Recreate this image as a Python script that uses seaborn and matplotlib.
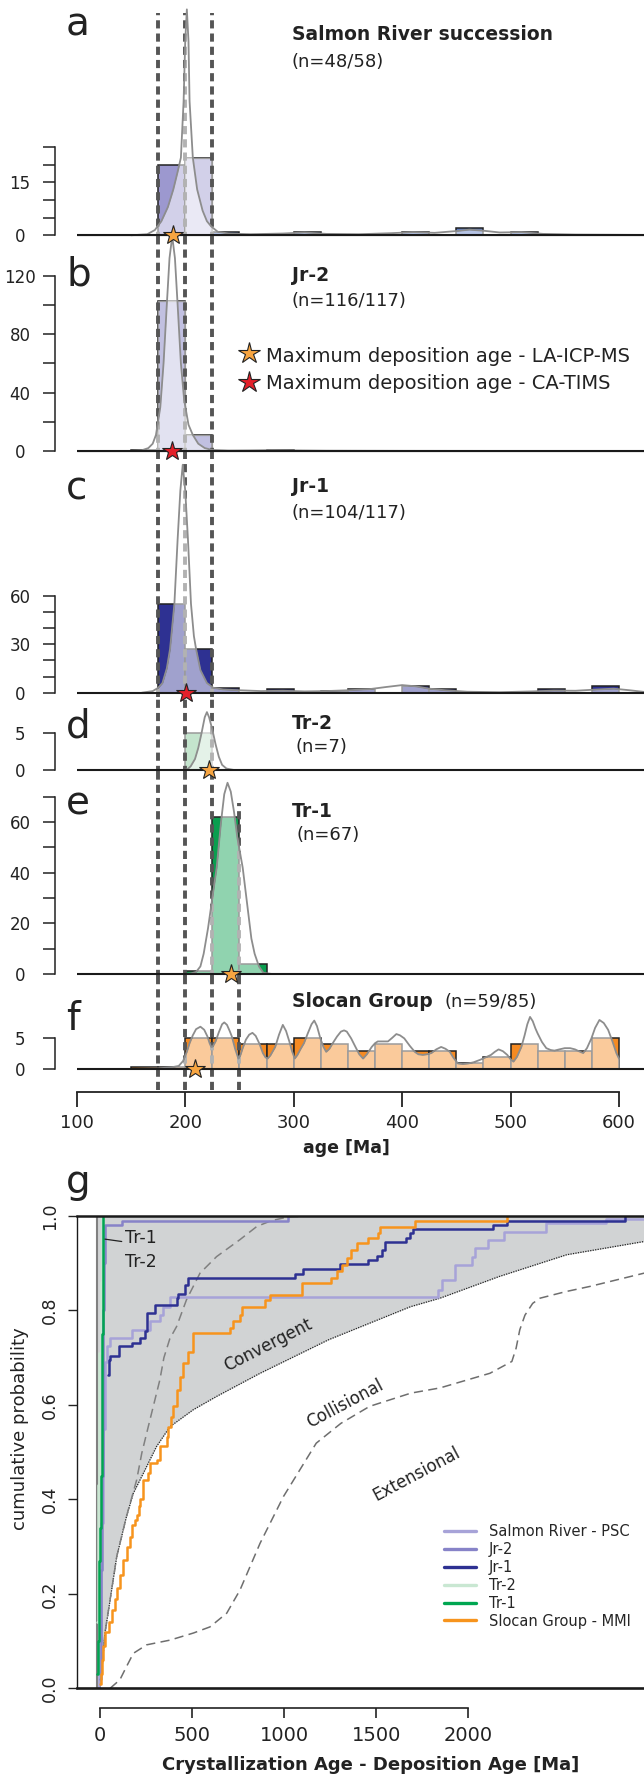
import matplotlib
matplotlib.use("Agg")
import matplotlib.pyplot as plt
from matplotlib.lines import Line2D
import seaborn as sns

sns.set_style("ticks")
plt.rcParams["font.family"] = ["DejaVu Sans"]

W, H = 644, 1779

# ---------------- histogram data: left edges of 25 Ma bins and counts ----------------
BIN_EDGES = list(range(100, 626, 25))

A_BINS = [175, 200]
A_COUNTS = [20, 22]
A_SMALL_BINS = [225, 300, 400, 450, 500]
A_SMALL_COUNTS = [1, 1, 1, 2, 1]
A_LIGHT_BINS = [200]
A_LIGHT_COUNTS = [22]
A_KDE_X = [150, 165, 172, 178, 184, 189, 193, 196, 198.5, 200, 201.5, 203, 204, 207, 211, 216, 220, 224,
           230, 240, 260, 290, 310, 330, 360, 390, 410, 430, 450, 462, 475, 490, 510, 530, 560, 623]
A_KDE_Y = [0, 0.3, 1.5, 4, 8, 13, 18, 22, 38, 55, 64, 55, 38, 22, 13, 7, 4, 2.5,
           1, 0.5, 0.3, 0.5, 0.8, 0.4, 0.3, 0.6, 0.9, 0.7, 1.2, 1.6, 1.3, 0.8, 0.9, 0.4, 0.2, 0.1]

B_BINS = [150, 175, 200, 275]
B_COUNTS = [1, 103, 11, 1]
B_LIGHT_BINS = [175, 200]
B_LIGHT_COUNTS = [103, 11]
B_KDE_X = [150, 160, 166, 170, 173, 177, 180, 183, 185.5, 188, 190.5, 193, 196, 199, 203, 207, 212, 218,
           225, 240, 260, 280, 300, 330, 400, 623]
B_KDE_Y = [0, 0.5, 2, 5, 11, 30, 60, 100, 132, 147, 132, 100, 60, 35, 18, 11, 5, 2,
           0.7, 0.3, 0.4, 0.6, 0.4, 0.2, 0.1, 0]

C_BINS = [175, 200, 225, 275, 325, 350, 400, 425, 525, 575]
C_COUNTS = [55, 27, 3, 2, 1, 2, 4, 2, 2, 4]
C_KDE_X = [160, 170, 175, 179, 183, 186, 190, 193, 195.5, 197.7, 200, 202.5, 205.3, 208, 210, 214, 220, 226,
           235, 250, 270, 290, 310, 330, 350, 370, 385, 400, 412, 425, 440, 460, 490, 520, 540, 560,
           580, 595, 610, 623]
C_KDE_Y = [0, 1, 3, 6, 15, 27, 55, 95, 125, 141, 125, 95, 55, 35, 27, 14, 6, 3,
           2, 1.5, 1, 1.2, 0.8, 1, 1.5, 2.2, 3.5, 4.7, 4, 2.5, 1.5, 0.6, 0.3, 0.8, 1.3, 1.2,
           2, 2.5, 1.5, 0.5]

D_BINS = [200]
D_COUNTS = [5]
D_KDE_X = [198, 202, 205, 209, 212, 215, 218, 220, 222, 225, 228, 231, 234, 238, 245]
D_KDE_Y = [0, 0.1, 0.5, 1.5, 3, 5, 7.2, 7.9, 7.2, 5.5, 3.5, 1.8, 0.7, 0.2, 0]

E_BINS = [200, 225, 250]
E_COUNTS = [1, 62, 4]
E_KDE_X = [200, 205, 210, 214, 217, 221, 225, 229, 233, 236, 239, 242, 245, 248, 253, 257, 261, 264,
           268, 272, 280]
E_KDE_Y = [0, 0.2, 0.8, 3, 8, 18, 30, 42, 60, 71, 75.5, 72, 64, 54, 42, 28, 14, 8, 3, 0.5, 0]

F_BINS = [150, 175, 200, 225, 250, 275, 300, 325, 350, 375, 400, 425, 450, 475, 500, 525, 550, 575]
F_COUNTS = [0.3, 0.3, 5, 5, 4, 4, 5, 4, 3, 4, 3, 3, 1, 2, 4, 3, 3, 5]
F_KDE_X = [150, 175, 188, 194, 198, 201.5, 204, 207, 210, 214, 217.5, 220.5, 222.5, 224, 225.5, 228, 231,
           234, 236, 238.5, 241, 243, 246, 249, 251, 253, 256, 259, 262, 265, 268.5, 271.6, 274, 276,
           278.5, 283, 286.5, 290, 293, 296, 298.5, 301, 303.5, 306.5, 309.5, 313, 316.5, 319, 321.5,
           324.6, 327.5, 330, 333, 336, 340, 343.6, 346.5, 349, 353, 357, 360.5, 364, 367.5, 372, 375,
           377.6, 382, 387, 391, 394.7, 398, 402, 407, 411.7, 415, 419, 423, 427, 431.5, 436, 440, 444,
           447.5, 451.5, 456, 461, 466, 472, 477, 482, 485.5, 489, 493, 497, 500, 502.7, 506, 510, 513,
           515.5, 518, 520.5, 523, 525, 529, 533, 537, 540.5, 545, 550, 555, 559.5, 563, 567, 570.5,
           574.6, 578, 582, 586, 590, 594, 597.6, 600]
F_KDE_Y = [0, 0.1, 0.3, 0.5, 1.3, 2.8, 4.2, 5.5, 6.5, 6.9, 6.4, 5.3, 4.2, 3.6, 3.7, 4.5, 6.0,
           7.3, 7.6, 7.2, 6.2, 5.3, 3.3, 1.7, 2.3, 3.4, 4.8, 5.6, 5.9, 5.4, 4.1, 2.6, 1.9, 1.7,
           2.2, 3.6, 5.6, 7.2, 6.2, 4.5, 2.9, 1.7, 2.3, 3.3, 4.2, 5.8, 7.3, 7.9, 7.0,
           5.0, 3.6, 2.8, 3.3, 4.2, 5.3, 6.1, 6.3, 6.1, 5.0, 3.6, 2.4, 1.7, 2.4, 3.6, 4.2,
           4.5, 4.5, 4.5, 5.1, 5.7, 5.5, 5.0, 3.8, 2.8, 2.4, 2.3, 2.4, 2.6, 3.2, 3.6, 3.3, 2.8,
           1.8, 0.9, 0.8, 0.9, 1.1, 1.5, 1.9, 2.3, 2.8, 3.2, 2.9, 2.3, 1.6, 1.2, 2.0, 3.6, 5.5,
           7.3, 8.5, 7.8, 6.6, 5.8, 4.4, 3.4, 3.1, 3.0, 3.2, 3.4, 3.4, 3.2, 2.9, 2.6, 3.4,
           5.0, 6.7, 8.0, 7.5, 6.4, 4.5, 2.6, 1.7]

# maximum deposition ages (stars)
STAR_AGES = [188.3, 187.5, 200.4, 221.6, 242.4, 209]
STAR_KIND = ["LA", "TIMS", "TIMS", "LA", "LA", "LA"]
DASH_AGES = [175, 200, 225, 250]

TITLES = ["Salmon River succession", "Jr-2", "Jr-1", "Tr-2", "Tr-1", "Slocan Group"]
N_LABELS = ["(n=48/58)", "(n=116/117)", "(n=104/117)", "(n=7)", "(n=67)", "(n=59/85)"]
LETTERS = ["a", "b", "c", "d", "e", "f"]
Y_TICKS = [[0, 5, 10, 15, 20, 25], [0, 20, 40, 60, 80, 100, 120], [0, 10, 20, 30, 40, 50, 60],
           [0, 5], [0, 10, 20, 30, 40, 50, 60, 70], [0, 5]]
Y_TICK_LABELS = [["0", "", "", "15", "", ""], ["0", "", "40", "", "80", "", "120"],
                 ["0", "", "", "30", "", "", "60"], ["0", "5"],
                 ["0", "", "20", "", "40", "", "60", ""], ["0", "5"]]
AGE_TICKS = [100, 200, 300, 400, 500, 600]

# ---------------- cumulative distribution data (panel g) ----------------
SR_X = [-7, -4, 8, 20, 29, 37, 55, 173, 272, 326, 345, 381, 1838, 1856, 1929, 2019, 2037, 2110,
        2194, 2423, 2749, 2955]
SR_P = [0, 0.1, 0.35, 0.55, 0.69, 0.724, 0.741, 0.758, 0.777, 0.791, 0.808, 0.828, 0.844, 0.865,
        0.897, 0.914, 0.932, 0.95, 0.966, 0.985, 0.994, 0.994]
JR2_X = [2, 5, 9, 13, 16, 20, 23, 28, 119, 1022]
JR2_P = [0.02, 0.1, 0.25, 0.45, 0.65, 0.8, 0.9, 0.981, 0.99, 1.0]
JR1_X = [46, 49, 55, 106, 173, 218, 246, 258, 300, 417, 427, 463, 477, 1059, 1105, 1303, 1458, 1504,
         1530, 1548, 1665, 1684, 1702, 2136, 2209, 2851]
JR1_P = [0.664, 0.696, 0.703, 0.724, 0.731, 0.742, 0.756, 0.794, 0.812, 0.826, 0.835, 0.854, 0.869,
         0.878, 0.888, 0.898, 0.907, 0.916, 0.929, 0.944, 0.953, 0.964, 0.972, 0.982, 0.99, 1.0]
TR2_X = [-14, -8, -2, 4, 10]
TR2_P = [0.14, 0.43, 0.71, 0.86, 1.0]
TR1_X = [-16, -12, -7, -2, 3, 7, 10, 14, 16, 19]
TR1_P = [0.03, 0.1, 0.18, 0.27, 0.34, 0.45, 0.6, 0.75, 0.88, 1.0]
SL_X = [1, 5, 13, 20, 28, 50, 64, 80, 92, 110, 127, 147, 163, 173, 189, 200, 211, 218, 236, 264, 272,
        308, 326, 363, 371, 388, 399, 417, 435, 453, 481, 508, 707, 725, 761, 770, 896, 924, 1096,
        1254, 1290, 1317, 1344, 1362, 1399, 1458, 1512, 1523, 1711, 2209]
SL_P = [0.01, 0.03, 0.06, 0.09, 0.12, 0.14, 0.166, 0.19, 0.212, 0.24, 0.272, 0.3, 0.321, 0.346, 0.357,
        0.367, 0.385, 0.4, 0.441, 0.455, 0.477, 0.484, 0.512, 0.533, 0.554, 0.575, 0.597, 0.632, 0.66,
        0.689, 0.713, 0.752, 0.763, 0.777, 0.791, 0.808, 0.823, 0.833, 0.858, 0.869, 0.883, 0.897,
        0.911, 0.929, 0.943, 0.953, 0.964, 0.977, 0.989, 1.0]

# tectonic-setting envelopes
CONV_X = [-16, 1, 8, 28, 56, 92, 145, 182, 236, 308, 381, 508, 634, 870, 1242, 1687, 1847, 2169, 2535, 2955]
CONV_P = [0, 0, 0.02, 0.117, 0.187, 0.279, 0.364, 0.413, 0.455, 0.512, 0.554, 0.59, 0.618, 0.667,
          0.738, 0.808, 0.826, 0.872, 0.918, 0.946]
UPPER_X = [1, 28, 92, 145, 200, 228, 272, 326, 348, 380, 417, 471, 544, 634, 761, 853, 931, 1020, 1143]
UPPER_P = [0, 0.117, 0.279, 0.364, 0.441, 0.498, 0.568, 0.653, 0.7, 0.74, 0.766, 0.823, 0.879, 0.914,
           0.95, 0.978, 0.99, 0.998, 1.0]
EXT_X = [56, 109, 145, 182, 254, 381, 508, 598, 689, 761, 816, 870, 938, 997, 1175, 1309, 1465, 1689,
         1847, 2118, 2237, 2260, 2280, 2308, 2350, 2390, 2531, 2662, 2955]
EXT_P = [0, 0.018, 0.046, 0.074, 0.092, 0.102, 0.117, 0.13, 0.159, 0.208, 0.258, 0.307, 0.36, 0.406,
         0.519, 0.561, 0.597, 0.625, 0.636, 0.667, 0.692, 0.72, 0.759, 0.79, 0.815, 0.826, 0.84, 0.851,
         0.879]
G_LABELS = ["Salmon River - PSC", "Jr-2", "Jr-1", "Tr-2", "Tr-1", "Slocan Group - MMI"]
G_COLORS = ["#a7a3d8", "#8783c8", "#2e3192", "#c9e7d2", "#00a651", "#f7941d"]
DIFF_TICKS = [0, 500, 1000, 1500, 2000]
PROB_TICKS = [0.0, 0.2, 0.4, 0.6, 0.8, 1.0]

# ---------------- layout (pixels) ----------------
X_LEFT = 76.8
X_MAX_TOP = 100 + (W - X_LEFT) / 1.0843
PANEL_TOP = [0, 240, 456, 697, 774, 978]
PANEL_BOT = [240, 456, 697, 774, 978, 1090]
PANEL_BASE = [235.3, 451, 692.7, 770, 974, 1069]
PANEL_SCALE = [3.53, 1.461, 1.617, 7.33, 2.533, 6.13]
LETTER_BASE = [35, 285, 500, 738, 815, 1030]
TITLE_BASE = [40, 280.7, 491.7, 729.3, 816.7, 1006.7]
N_POS = [(291.6, 66.7), (291.6, 306), (291.6, 518.3), (295.7, 751.7), (296.5, 840), (444.8, 1006.7)]
DASH_TOPS = [13, 13, 13, 803]
DASH_BOTTOM = 1090
G_ZERO_PX, G_PX_PER_MA = 99.8, 0.1842

BAR_COLORS = ["#9c98cf", "#7875bd", "#2e3192", "#c4e4cd", "#0a9e4f", "#f58a22"]
BAR_EDGES = ["#222222", "#222222", "#222222", "#9a9a9a", "#222222", "#222222"]
SMALL_BAR_COLOR = "#5d7cc4"
STAR_COLORS = {"LA": "#f7a541", "TIMS": "#e3202a"}


def fx(px):
    return px / W


def fy(py):
    return 1 - py / H


fig = plt.figure(figsize=(W / 100, H / 100), dpi=100)


def add_ax(x0, y0, x1, y1):
    return fig.add_axes([fx(x0), fy(y1), (x1 - x0) / W, (y1 - y0) / H])


def bars(ax, lefts, counts, **kw):
    sns.histplot(x=[b + 12.5 for b in lefts], weights=counts, bins=BIN_EDGES, ax=ax, **kw)


panel_data = [
    (A_BINS, A_COUNTS, A_LIGHT_BINS, A_LIGHT_COUNTS, A_KDE_X, A_KDE_Y),
    (B_BINS, B_COUNTS, B_LIGHT_BINS, B_LIGHT_COUNTS, B_KDE_X, B_KDE_Y),
    (C_BINS, C_COUNTS, [], [], C_KDE_X, C_KDE_Y),
    (D_BINS, D_COUNTS, [], [], D_KDE_X, D_KDE_Y),
    (E_BINS, E_COUNTS, [], [], E_KDE_X, E_KDE_Y),
    (F_BINS, F_COUNTS, [], [], F_KDE_X, F_KDE_Y),
]

for i, (bins, counts, lbins, lcounts, kx, ky) in enumerate(panel_data):
    top, bot, base, scale = PANEL_TOP[i], PANEL_BOT[i], PANEL_BASE[i], PANEL_SCALE[i]
    ax = add_ax(X_LEFT, top, W, bot)
    ax.set_zorder(20 - i)
    ax.patch.set_visible(False)

    bars(ax, bins, counts, color=BAR_COLORS[i], edgecolor=BAR_EDGES[i], linewidth=1.1, alpha=1, zorder=2)
    if i == 0:
        bars(ax, A_SMALL_BINS, A_SMALL_COUNTS, color=SMALL_BAR_COLOR, edgecolor="#222222",
             linewidth=1.1, alpha=1, zorder=2.2)
    if lbins:
        bars(ax, lbins, lcounts, color="white", alpha=0.55, edgecolor="#9a9a9a", linewidth=0.9, zorder=2.5)

    # dashed reference ages
    for age, ltop in zip(DASH_AGES, DASH_TOPS):
        y0, y1 = max(ltop, top), min(DASH_BOTTOM, bot)
        if y1 <= y0:
            continue
        ax.axvline(age, (bot - y1) / (bot - top), (bot - y0) / (bot - top),
                   color="#555555", lw=2.8, ls=(0, (2.1, 1.3)), zorder=3)

    ax.fill_between(kx, ky, 0, color="white", alpha=0.55, lw=0, zorder=4, clip_on=False)
    ax.plot(kx, ky, color="#8d8d8d", lw=1.3, zorder=5, clip_on=False)
    ax.axhline(0, color="#1a1a1a", lw=1.5, zorder=6)
    ax.plot([STAR_AGES[i]], [0], marker="*", ms=15, mfc=STAR_COLORS[STAR_KIND[i]], mec="#222222",
            mew=0.8, ls="none", zorder=9, clip_on=False)

    ax.set_xlim(100, X_MAX_TOP)
    ax.set_ylim(-(bot - base) / scale, (base - top) / scale)
    ax.set_xticks([])
    ax.set_xlabel("")
    ax.set_ylabel("")
    for s in ["top", "right", "bottom"]:
        ax.spines[s].set_visible(False)
    ax.spines["left"].set_position(("outward", 16))
    ax.spines["left"].set_bounds(0, Y_TICKS[i][-1])
    ax.spines["left"].set_color("#222222")
    ax.spines["left"].set_linewidth(1.1)
    ax.set_yticks(Y_TICKS[i])
    ax.set_yticklabels(Y_TICK_LABELS[i])
    ax.tick_params(axis="y", length=8.3, width=1.1, pad=16.5, labelsize=12, colors="#222222")
    for t in ax.get_yticklabels():
        t.set_ha("center")

    fig.text(fx(66), fy(LETTER_BASE[i]), LETTERS[i], fontsize=28, va="baseline", ha="left", color="#222222")
    fig.text(fx(291.6), fy(TITLE_BASE[i]), TITLES[i], fontsize=13.5, fontweight="bold",
             va="baseline", ha="left", color="#222222")
    fig.text(fx(N_POS[i][0]), fy(N_POS[i][1]), N_LABELS[i], fontsize=13, va="baseline", ha="left",
             color="#222222")

# star legend (inside panel b)
for yy, kind, txt, tb in [(352.7, "LA", "Maximum deposition age - LA-ICP-MS", 361.7),
                          (381.7, "TIMS", "Maximum deposition age - CA-TIMS", 389.3)]:
    fig.add_artist(Line2D([fx(248.5)], [fy(yy)], marker="*", ms=16, mfc=STAR_COLORS[kind],
                          mec="#222222", mew=0.8, ls="none", transform=fig.transFigure))
    fig.text(fx(266), fy(tb), txt, fontsize=14, va="baseline", ha="left", color="#222222")

# shared age axis
axx = add_ax(X_LEFT, 1091.7, W, 1091.8)
axx.set_xlim(100, X_MAX_TOP)
axx.patch.set_visible(False)
for s in ["top", "right", "left"]:
    axx.spines[s].set_visible(False)
axx.spines["bottom"].set_bounds(100, 600)
axx.spines["bottom"].set_linewidth(1.3)
axx.spines["bottom"].set_color("#222222")
axx.set_yticks([])
axx.set_xticks(AGE_TICKS)
axx.tick_params(axis="x", length=10.8, width=1.3, pad=5, labelsize=13, colors="#222222")
fig.text(fx(346.6), fy(1148), "age [Ma]", fontsize=12.5, fontweight="bold", ha="center", va="center",
         color="#222222")

# ---------------- panel g ----------------
G_TOP, G_BOT = 1216, 1688.3
axg = add_ax(X_LEFT, G_TOP, W, G_BOT)
x_lo = (X_LEFT - G_ZERO_PX) / G_PX_PER_MA
x_hi = (W - G_ZERO_PX) / G_PX_PER_MA

axg.fill_between(CONV_X, CONV_P, 1, color="#d1d3d4", lw=0, zorder=1)
axg.plot(CONV_X[1:], CONV_P[1:], color="#222222", lw=0.9, ls=(0, (1, 1)), zorder=2)
axg.plot(UPPER_X, UPPER_P, color="#808080", lw=1.1, ls=(0, (6, 3.5)), zorder=2)
axg.plot(EXT_X, EXT_P, color="#6e6e6e", lw=1.1, ls=(0, (6, 3.5)), zorder=2)
axg.axvline(-16, color="#808080", lw=1.5, zorder=2)

for xs, ps, c in [(TR2_X, TR2_P, G_COLORS[3]), (SR_X, SR_P, G_COLORS[0]), (JR2_X, JR2_P, G_COLORS[1]),
                  (JR1_X, JR1_P, G_COLORS[2]), (SL_X, SL_P, G_COLORS[5]), (TR1_X, TR1_P, G_COLORS[4])]:
    axg.step(xs, ps, where="post", color=c, lw=1.8, zorder=4)

axg.plot([28, 119], [0.951, 0.946], color="#222222", lw=0.9, zorder=5)
fig.text(fx(125), fy(1238), "Tr-1", fontsize=12.5, ha="left", va="center", color="#222222")
fig.text(fx(125), fy(1262), "Tr-2", fontsize=12.5, ha="left", va="center", color="#222222")
fig.text(fx(268), fy(1345), "Convergent", fontsize=12, rotation=27, ha="center", va="center",
         rotation_mode="anchor", color="#222222")
fig.text(fx(345), fy(1404), "Collisional", fontsize=12, rotation=28, ha="center", va="center",
         rotation_mode="anchor", color="#222222")
fig.text(fx(417), fy(1474), "Extensional", fontsize=12, rotation=28, ha="center", va="center",
         rotation_mode="anchor", color="#222222")

axg.set_xlim(x_lo, x_hi)
axg.set_ylim(0, 1)
axg.set_xticks([])
axg.spines["right"].set_visible(False)
axg.spines["top"].set_linewidth(1.8)
axg.spines["bottom"].set_linewidth(1.9)
axg.spines["left"].set_linewidth(1.0)
for s in ["top", "bottom", "left"]:
    axg.spines[s].set_color("#1a1a1a")
    axg.spines[s].set_zorder(6)
axg.set_yticks(PROB_TICKS)
axg.set_yticklabels([f"{v:.1f}" for v in PROB_TICKS], rotation=90, va="center")
axg.tick_params(axis="y", length=6.7, width=1.0, pad=6, labelsize=12.5, colors="#222222")

handles = [Line2D([], [], color=c, lw=2.4) for c in G_COLORS]
axg.legend(handles, G_LABELS, loc="upper left", bbox_to_anchor=(fx(443.5), fy(1524)),
           bbox_transform=fig.transFigure, frameon=False, fontsize=10.5, handlelength=2.25,
           handletextpad=0.85, labelspacing=0.2, borderpad=0, borderaxespad=0)

axgx = add_ax(X_LEFT, 1707.7, W, 1707.8)
axgx.set_xlim(x_lo, x_hi)
axgx.patch.set_visible(False)
for s in ["top", "right", "left"]:
    axgx.spines[s].set_visible(False)
axgx.spines["bottom"].set_bounds(0, 2000)
axgx.spines["bottom"].set_linewidth(1.2)
axgx.spines["bottom"].set_color("#222222")
axgx.set_yticks([])
axgx.set_xticks(DIFF_TICKS)
axgx.tick_params(axis="x", length=6.9, width=1.2, pad=6, labelsize=14, colors="#222222")

fig.text(fx(66), fy(1193), "g", fontsize=28, va="baseline", ha="left", color="#222222")
fig.text(fx(20), fy(1429), "cumulative probability", fontsize=13, rotation=90, ha="center", va="center",
         color="#222222")
fig.text(fx(370.5), fy(1765), "Crystallization Age - Deposition Age [Ma]", fontsize=13,
         fontweight="bold", ha="center", va="center", color="#222222")

fig.savefig("out.png", dpi=100)
